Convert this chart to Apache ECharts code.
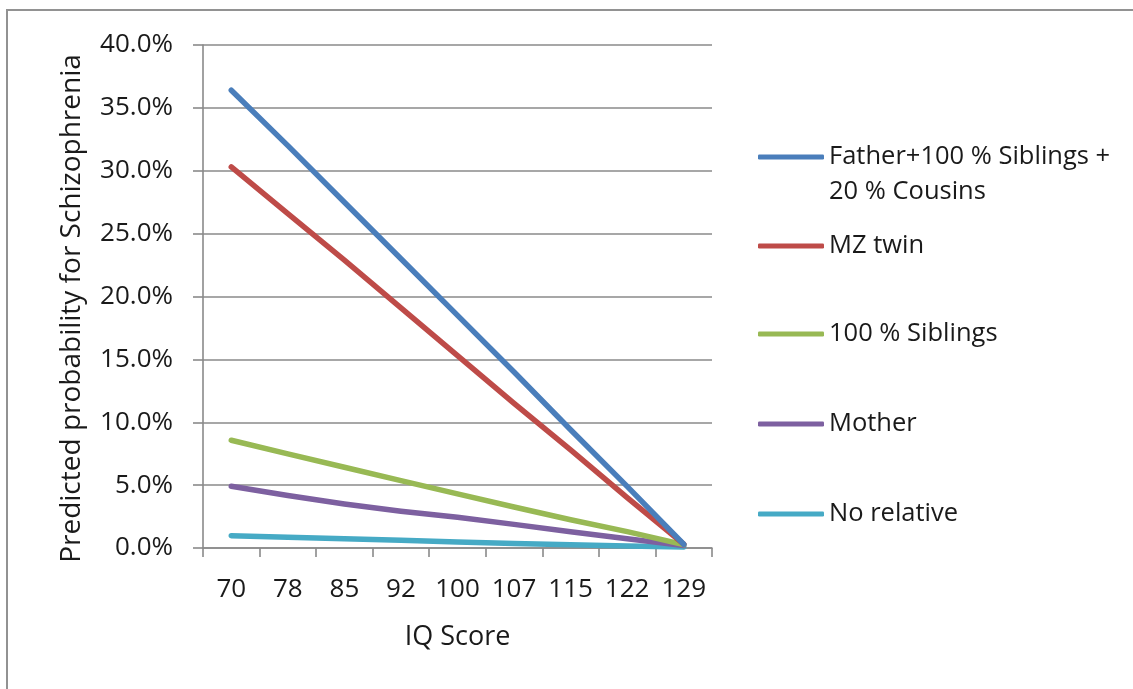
<!DOCTYPE html>
<html>
<head>
<meta charset="utf-8">
<script src="https://cdn.jsdelivr.net/npm/echarts@6/dist/echarts.min.js"></script>
<style>
html,body{margin:0;padding:0;background:#fff;}
#chart{width:1133px;height:689px;}
</style>
</head>
<body>
<div id="chart"></div>
<script>
const categories = ['70','78','85','92','100','107','115','122','129'];
const seriesNames = ['Father+100 % Siblings +\n20 % Cousins','MZ twin','100 % Siblings','Mother','No relative'];
const fatherSiblingsCousins = [36.4, 32.0, 27.5, 23.0, 18.5, 14.0, 9.4, 4.9, 0.3];
const mzTwin = [30.3, 26.6, 22.9, 19.1, 15.3, 11.5, 7.8, 4.0, 0.3];
const siblings100 = [8.57, 7.48, 6.42, 5.36, 4.3, 3.26, 2.25, 1.3, 0.27];
const mother = [4.91, 4.18, 3.5, 2.92, 2.44, 1.88, 1.3, 0.74, 0.19];
const noRelative = [0.98, 0.86, 0.74, 0.62, 0.47, 0.36, 0.26, 0.16, 0.08];
const yTicks = {min: 0, max: 40, interval: 5};

const colors = ['#4a7ebb','#be4b48','#98b954','#7d60a0','#46aac5'];
const seriesData = [fatherSiblingsCousins, mzTwin, siblings100, mother, noRelative];
const FONT = '"Open Sans", "Noto Sans", sans-serif';
const TXT = '#1a1a1a';

const chart = echarts.init(document.getElementById('chart'));

const legendCenters = [157, 246, 334, 424, 514];
const legends = seriesNames.map((n, i) => {
  const twoLine = n.indexOf('\n') >= 0;
  const boxH = twoLine ? 105 : 35;
  return {
    data: [{name: n, icon: 'roundRect', itemStyle: {color: colors[i]}}],
    orient: 'vertical',
    left: 758,
    top: legendCenters[i] - boxH / 2,
    padding: 0,
    itemWidth: 66,
    itemHeight: 5,
    selectedMode: false,
    formatter: twoLine ? (name => '\n' + name) : (name => name),
    textStyle: {fontFamily: FONT, fontSize: 25.5, color: TXT, lineHeight: 35}
  };
});

chart.setOption({
  backgroundColor: '#fff',
  animation: false,
  graphic: [{
    type: 'rect',
    shape: {x: 7, y: 10, width: 1140, height: 700},
    style: {fill: 'none', stroke: '#929292', lineWidth: 2},
    silent: true
  }],
  grid: {left: 203, right: 421, top: 45, bottom: 141},
  legend: legends,
  xAxis: {
    type: 'category',
    data: categories,
    boundaryGap: true,
    name: 'IQ Score',
    nameLocation: 'middle',
    nameGap: 76,
    nameTextStyle: {fontFamily: FONT, fontSize: 27, color: TXT},
    axisLine: {lineStyle: {color: '#8a8a8a', width: 1.6}},
    axisTick: {show: true, length: 9, lineStyle: {color: '#8a8a8a', width: 1.6}},
    axisLabel: {interval: 0, fontFamily: FONT, fontSize: 26, color: TXT, margin: 29},
    splitLine: {show: false}
  },
  yAxis: {
    type: 'value',
    min: yTicks.min, max: yTicks.max, interval: yTicks.interval,
    name: 'Predicted probability for Schizophrenia',
    nameLocation: 'middle',
    nameGap: 117,
    nameRotate: 90,
    nameTextStyle: {fontFamily: FONT, fontSize: 28, color: TXT, padding: [0, 24, 0, 0]},
    axisLine: {show: true, lineStyle: {color: '#8a8a8a', width: 1.6}},
    axisTick: {show: true, length: 10, lineStyle: {color: '#8a8a8a', width: 1.6}},
    axisLabel: {fontFamily: FONT, fontSize: 26, color: TXT, margin: 30,
      formatter: v => v.toFixed(1) + '%'},
    splitLine: {show: true, lineStyle: {color: '#8a8a8a', width: 1.6}}
  },
  series: seriesNames.map((n, i) => ({
    name: n,
    type: 'line',
    data: seriesData[i],
    showSymbol: false,
    symbol: 'none',
    smooth: false,
    lineStyle: {color: colors[i], width: 5.5, cap: 'round', join: 'round'},
    itemStyle: {color: colors[i]},
    z: 10 - i
  }))
});
</script>
</body>
</html>
